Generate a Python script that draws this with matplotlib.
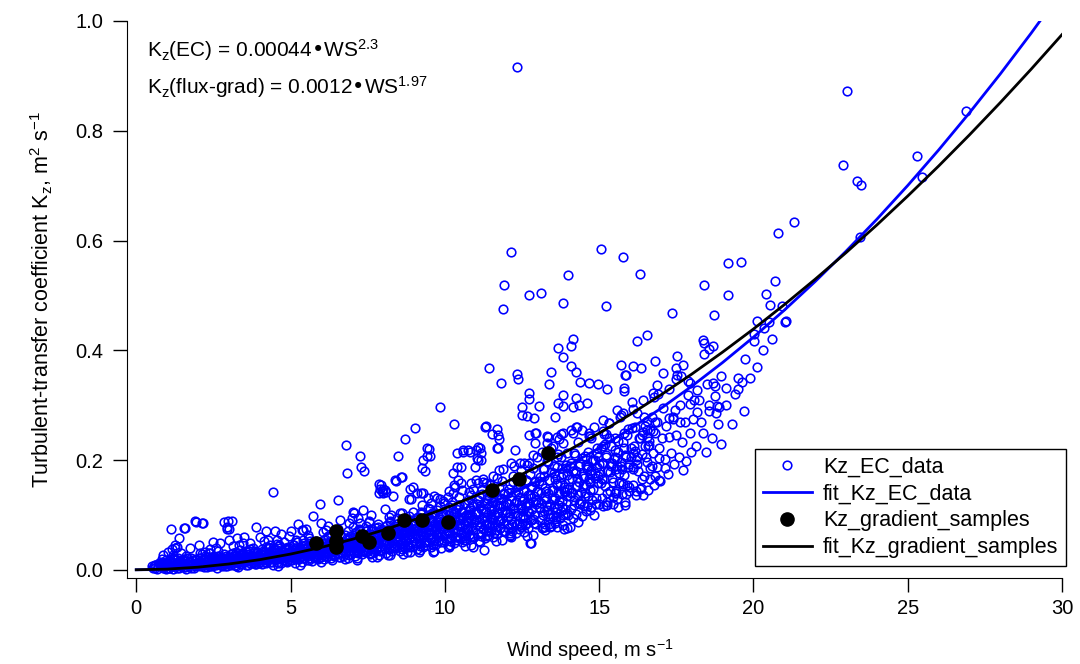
import matplotlib
matplotlib.use('Agg')
import matplotlib.pyplot as plt
import numpy as np

plt.rcParams['font.family'] = ['Liberation Sans', 'DejaVu Sans']
plt.rcParams['mathtext.default'] = 'regular'

# ---------------- data ----------------
# fitted curves, sampled every 1 m/s
fit_ws = list(range(0, 31))
fit_kz_ec = [0, 0.0005, 0.0024, 0.0059, 0.0113, 0.0187, 0.0282, 0.0399, 0.0539, 0.0703,
             0.0891, 0.1104, 0.1343, 0.1608, 0.1899, 0.2218, 0.2565, 0.2940, 0.3344, 0.3776,
             0.4238, 0.4730, 0.5252, 0.5804, 0.6387, 0.7002, 0.7648, 0.8326, 0.9035, 0.9778, 1.0553]
fit_kz_grad = [0, 0.0012, 0.0047, 0.0105, 0.0184, 0.0286, 0.0409, 0.0555, 0.0722, 0.0910,
               0.1120, 0.1351, 0.1604, 0.1878, 0.2173, 0.2489, 0.2827, 0.3186, 0.3565, 0.3966,
               0.4387, 0.4830, 0.5294, 0.5778, 0.6283, 0.6810, 0.7356, 0.7924, 0.8513, 0.9122, 0.9752]

# flux-gradient samples
grad_ws = [5.83, 6.48, 6.48, 6.48, 7.32, 7.55, 8.16, 8.68, 9.26, 10.1, 11.53, 12.41, 13.35]
grad_kz = [0.049, 0.071, 0.053, 0.042, 0.062, 0.051, 0.067, 0.091, 0.091, 0.087, 0.146, 0.166, 0.213]

# eddy-covariance points, dense band (ws, kz)
ec_band_a = [
    (0.55,.004),(0.62,.009),(0.68,.002),(0.74,.012),(0.79,.006),(0.83,.015),(0.87,.003),(0.91,.010),(0.95,.018),(0.98,.007),
    (1.02,.012),(1.05,.004),(1.08,.020),(1.11,.008),(1.14,.015),(1.18,.027),(1.21,.006),(1.24,.011),(1.27,.018),(1.31,.003),
    (1.34,.022),(1.37,.009),(1.41,.014),(1.44,.030),(1.47,.007),(1.51,.012),(1.55,.019),(1.58,.005),(1.62,.025),(1.66,.010),
    (1.70,.016),(1.74,.008),(1.79,.021),(1.84,.013),(1.90,.006),(1.95,.017),
    (2.02,.010),(2.05,.021),(2.08,.006),(2.11,.015),(2.14,.028),(2.17,.012),(2.20,.008),(2.23,.019),(2.26,.024),(2.29,.005),
    (2.32,.014),(2.35,.031),(2.38,.010),(2.41,.017),(2.44,.022),(2.47,.007),(2.50,.013),(2.53,.026),(2.56,.016),(2.59,.009),
    (2.62,.020),(2.65,.034),(2.68,.012),(2.71,.018),(2.74,.024),(2.77,.008),(2.80,.015),(2.83,.028),(2.86,.011),(2.89,.020),
    (2.92,.016),(2.95,.006),(2.98,.023),(2.60,.040),(2.40,.038),
    (3.02,.013),(3.05,.024),(3.08,.009),(3.11,.018),(3.14,.031),(3.17,.015),(3.20,.021),(3.23,.007),(3.26,.027),(3.29,.012),
    (3.32,.019),(3.35,.036),(3.38,.016),(3.41,.010),(3.44,.024),(3.47,.029),(3.50,.014),(3.53,.020),(3.56,.008),(3.59,.033),
    (3.62,.017),(3.65,.023),(3.68,.012),(3.71,.027),(3.74,.019),(3.77,.040),(3.80,.015),(3.83,.025),(3.86,.010),(3.89,.021),
    (3.92,.031),(3.95,.017),(3.98,.023),(3.15,.044),(3.45,.048),(3.70,.037),(3.30,.005),(3.85,.034),(3.55,.026),(3.97,.012),
    (4.02,.015),(4.04,.028),(4.07,.020),(4.09,.010),(4.12,.035),(4.14,.023),(4.17,.017),(4.19,.030),(4.22,.012),(4.24,.026),
    (4.27,.041),(4.29,.019),(4.32,.024),(4.34,.014),(4.37,.032),(4.39,.021),(4.42,.027),(4.44,.009),(4.47,.038),(4.49,.018),
    (4.52,.025),(4.54,.031),(4.57,.015),(4.59,.022),(4.62,.046),(4.64,.028),(4.67,.019),(4.69,.012),(4.72,.034),(4.74,.024),
    (4.77,.029),(4.79,.017),(4.82,.040),(4.84,.021),(4.87,.027),(4.89,.014),(4.92,.033),(4.94,.023),(4.97,.030),(4.99,.018),
    (4.15,.052),(4.55,.055),(4.80,.050),(4.35,.045),(4.60,.007),
]
ec_band_b = [
    (5.02,.024),(5.04,.036),(5.06,.017),(5.08,.029),(5.10,.045),(5.12,.021),(5.14,.032),(5.16,.013),(5.18,.039),(5.20,.026),
    (5.22,.050),(5.24,.030),(5.26,.019),(5.28,.035),(5.30,.024),(5.32,.042),(5.34,.028),(5.36,.015),(5.38,.033),(5.40,.055),
    (5.42,.022),(5.44,.037),(5.46,.027),(5.48,.046),(5.50,.031),(5.52,.018),(5.54,.040),(5.56,.025),(5.58,.034),(5.60,.058),
    (5.62,.029),(5.64,.021),(5.66,.043),(5.68,.036),(5.70,.016),(5.72,.031),(5.74,.048),(5.76,.026),(5.78,.038),(5.80,.022),
    (5.82,.033),(5.84,.052),(5.86,.028),(5.88,.041),(5.90,.019),(5.92,.035),(5.94,.045),(5.96,.030),(5.98,.024),(5.55,.064),
    (6.02,.035),(6.04,.048),(6.06,.027),(6.08,.040),(6.10,.019),(6.12,.056),(6.14,.032),(6.16,.044),(6.18,.024),(6.20,.038),
    (6.22,.062),(6.24,.030),(6.26,.050),(6.28,.036),(6.30,.021),(6.32,.043),(6.34,.029),(6.36,.055),(6.38,.039),(6.40,.025),
    (6.42,.047),(6.44,.034),(6.46,.066),(6.48,.041),(6.50,.028),(6.52,.052),(6.54,.037),(6.56,.023),(6.58,.045),(6.60,.033),
    (6.62,.059),(6.64,.040),(6.66,.030),(6.68,.049),(6.70,.026),(6.72,.043),(6.74,.036),(6.76,.063),(6.78,.046),(6.80,.032),
    (6.82,.054),(6.84,.039),(6.86,.022),(6.88,.048),(6.90,.035),(6.92,.058),(6.94,.042),(6.96,.029),(6.98,.051),(6.15,.072),
    (6.55,.075),(6.85,.070),(6.35,.018),(6.75,.020),(6.45,.060),
    (7.02,.045),(7.04,.060),(7.06,.033),(7.08,.052),(7.10,.026),(7.12,.068),(7.14,.040),(7.16,.055),(7.18,.031),(7.20,.048),
    (7.22,.074),(7.24,.038),(7.26,.061),(7.28,.044),(7.30,.028),(7.32,.054),(7.34,.036),(7.36,.066),(7.38,.049),(7.40,.032),
    (7.42,.058),(7.44,.042),(7.46,.080),(7.48,.051),(7.50,.035),(7.52,.063),(7.54,.046),(7.56,.029),(7.58,.056),(7.60,.041),
    (7.62,.071),(7.64,.050),(7.66,.037),(7.68,.060),(7.70,.033),(7.72,.053),(7.74,.045),(7.76,.077),(7.78,.057),(7.80,.039),
    (7.82,.066),(7.84,.048),(7.86,.027),(7.88,.059),(7.90,.043),(7.92,.070),(7.94,.052),(7.96,.036),(7.98,.062),(7.25,.085),
    (7.55,.088),(7.85,.083),(7.15,.022),(7.65,.024),(7.45,.070),
    (8.02,.054),(8.04,.072),(8.06,.040),(8.08,.062),(8.10,.031),(8.12,.081),(8.14,.048),(8.16,.066),(8.18,.037),(8.20,.057),
    (8.22,.088),(8.24,.045),(8.26,.073),(8.28,.053),(8.30,.034),(8.32,.064),(8.34,.043),(8.36,.079),(8.38,.058),(8.40,.039),
    (8.42,.069),(8.44,.050),(8.46,.095),(8.48,.061),(8.50,.042),(8.52,.075),(8.54,.055),(8.56,.035),(8.58,.067),(8.60,.049),
    (8.62,.085),(8.64,.060),(8.66,.044),(8.68,.071),(8.70,.039),(8.72,.063),(8.74,.053),(8.76,.092),(8.78,.068),(8.80,.046),
    (8.82,.078),(8.84,.057),(8.86,.032),(8.88,.070),(8.90,.051),(8.92,.083),(8.94,.062),(8.96,.043),(8.98,.074),(8.25,.100),
    (8.55,.104),(8.85,.098),(8.15,.027),(8.65,.029),(8.45,.084),
    (9.02,.065),(9.04,.086),(9.06,.048),(9.08,.074),(9.10,.037),(9.12,.097),(9.14,.057),(9.16,.079),(9.18,.044),(9.20,.068),
    (9.22,.105),(9.24,.054),(9.26,.087),(9.28,.063),(9.30,.041),(9.32,.076),(9.34,.051),(9.36,.094),(9.38,.069),(9.40,.046),
    (9.42,.082),(9.44,.060),(9.46,.113),(9.48,.072),(9.50,.050),(9.52,.089),(9.54,.066),(9.56,.042),(9.58,.080),(9.60,.058),
    (9.62,.101),(9.64,.071),(9.66,.053),(9.68,.085),(9.70,.047),(9.72,.075),(9.74,.063),(9.76,.109),(9.78,.081),(9.80,.055),
    (9.82,.093),(9.84,.068),(9.86,.039),(9.88,.083),(9.90,.061),(9.92,.099),(9.94,.074),(9.96,.051),(9.98,.088),(9.25,.118),
    (9.55,.122),(9.85,.116),(9.15,.033),(9.65,.035),(9.45,.100),
]
ec_band_c = [
    (10.02,.076),(10.04,.101),(10.06,.056),(10.08,.087),(10.10,.044),(10.12,.114),(10.14,.067),(10.16,.093),(10.18,.052),(10.20,.080),
    (10.22,.124),(10.24,.063),(10.26,.102),(10.28,.074),(10.30,.048),(10.32,.089),(10.34,.060),(10.36,.111),(10.38,.081),(10.40,.054),
    (10.42,.096),(10.44,.070),(10.46,.133),(10.48,.085),(10.50,.059),(10.52,.105),(10.54,.078),(10.56,.050),(10.58,.094),(10.60,.068),
    (10.62,.119),(10.64,.084),(10.66,.062),(10.68,.100),(10.70,.055),(10.72,.088),(10.74,.074),(10.76,.128),(10.78,.095),(10.80,.065),
    (10.82,.109),(10.84,.080),(10.86,.046),(10.88,.098),(10.90,.072),(10.92,.117),(10.94,.087),(10.96,.060),(10.98,.104),(10.25,.140),
    (10.55,.145),(10.85,.137),(10.15,.041),(10.65,.043),(10.45,.118),
    (11.02,.090),(11.04,.119),(11.06,.066),(11.08,.103),(11.10,.052),(11.12,.135),(11.14,.079),(11.16,.110),(11.18,.061),(11.20,.095),
    (11.22,.147),(11.24,.075),(11.26,.121),(11.28,.088),(11.30,.057),(11.32,.106),(11.34,.071),(11.36,.131),(11.38,.096),(11.40,.064),
    (11.42,.114),(11.44,.083),(11.46,.157),(11.48,.101),(11.50,.070),(11.52,.124),(11.54,.092),(11.56,.059),(11.58,.111),(11.60,.081),
    (11.62,.141),(11.64,.100),(11.66,.073),(11.68,.118),(11.70,.065),(11.72,.104),(11.74,.088),(11.76,.151),(11.78,.112),(11.80,.077),
    (11.82,.129),(11.84,.095),(11.86,.055),(11.88,.116),(11.90,.085),(11.92,.138),(11.94,.103),(11.96,.071),(11.98,.123),(11.25,.165),
    (11.55,.170),(11.85,.162),(11.15,.050),(11.65,.052),(11.45,.140),
    (12.02,.105),(12.04,.139),(12.06,.077),(12.08,.120),(12.10,.062),(12.12,.157),(12.14,.092),(12.16,.128),(12.18,.071),(12.20,.111),
    (12.22,.171),(12.24,.087),(12.26,.141),(12.28,.103),(12.30,.067),(12.32,.124),(12.34,.083),(12.36,.152),(12.38,.112),(12.40,.075),
    (12.42,.133),(12.44,.097),(12.46,.182),(12.48,.118),(12.50,.082),(12.52,.145),(12.54,.107),(12.56,.069),(12.58,.129),(12.60,.094),
    (12.62,.164),(12.64,.116),(12.66,.085),(12.68,.137),(12.70,.076),(12.72,.121),(12.74,.103),(12.76,.175),(12.78,.130),(12.80,.090),
    (12.82,.150),(12.84,.111),(12.86,.064),(12.88,.135),(12.90,.099),(12.92,.160),(12.94,.120),(12.96,.083),(12.98,.143),(12.25,.190),
    (12.55,.195),(12.85,.186),(12.15,.060),(12.65,.062),(12.45,.165),
    (13.02,.123),(13.05,.162),(13.08,.090),(13.11,.140),(13.14,.076),(13.17,.183),(13.20,.107),(13.23,.149),(13.26,.083),(13.29,.129),
    (13.32,.199),(13.35,.101),(13.38,.164),(13.41,.120),(13.44,.079),(13.47,.145),(13.50,.097),(13.53,.177),(13.56,.131),(13.59,.088),
    (13.62,.155),(13.65,.113),(13.68,.211),(13.71,.138),(13.74,.095),(13.77,.169),(13.80,.125),(13.83,.081),(13.86,.150),(13.89,.110),
    (13.92,.191),(13.95,.135),(13.98,.099),(13.15,.215),(13.45,.222),(13.75,.205),(13.25,.072),(13.85,.074),(13.55,.190),(13.35,.140),
    (13.65,.158),(13.95,.172),(13.10,.112),(13.40,.095),(13.70,.118),(13.90,.142),(13.20,.170),(13.60,.105),(13.80,.185),(13.50,.128),
    (14.02,.148),(14.05,.190),(14.08,.110),(14.11,.165),(14.14,.094),(14.17,.213),(14.20,.128),(14.23,.176),(14.26,.101),(14.29,.153),
    (14.32,.232),(14.35,.121),(14.38,.193),(14.41,.142),(14.44,.098),(14.47,.171),(14.50,.117),(14.53,.207),(14.56,.155),(14.59,.107),
    (14.62,.183),(14.65,.134),(14.68,.243),(14.71,.162),(14.74,.114),(14.77,.198),(14.80,.147),(14.83,.100),(14.86,.176),(14.89,.130),
    (14.92,.222),(14.95,.159),(14.98,.119),(14.15,.250),(14.45,.255),(14.75,.240),(14.25,.180),(14.55,.140),(14.85,.200),(14.35,.160),
    (14.65,.190),(14.95,.205),(14.40,.125),(14.10,.140),(14.70,.175),
]
ec_band_d = [
    (15.02,.175),(15.05,.222),(15.08,.131),(15.11,.194),(15.14,.116),(15.17,.247),(15.20,.152),(15.23,.206),(15.26,.123),(15.29,.180),
    (15.32,.268),(15.35,.144),(15.38,.226),(15.41,.168),(15.44,.120),(15.47,.201),(15.50,.140),(15.53,.240),(15.56,.183),(15.59,.129),
    (15.62,.214),(15.65,.159),(15.68,.279),(15.71,.190),(15.74,.138),(15.77,.232),(15.80,.173),(15.83,.124),(15.86,.206),(15.89,.154),
    (15.92,.257),(15.95,.187),(15.98,.143),(15.20,.230),(15.50,.205),(15.80,.250),(15.40,.190),(15.70,.160),(15.10,.165),
    (16.02,.205),(16.06,.258),(16.10,.155),(16.14,.226),(16.18,.143),(16.22,.286),(16.26,.180),(16.30,.240),(16.34,.148),(16.38,.211),
    (16.42,.310),(16.46,.171),(16.50,.262),(16.54,.197),(16.58,.145),(16.62,.234),(16.66,.166),(16.70,.278),(16.74,.213),(16.78,.154),
    (16.82,.249),(16.86,.187),(16.90,.320),(16.94,.222),(16.98,.162),(16.20,.200),(16.50,.225),(16.80,.270),(16.40,.245),(16.70,.190),
    (17.03,.240),(17.08,.295),(17.13,.185),(17.18,.262),(17.23,.175),(17.28,.330),(17.33,.212),(17.38,.278),(17.43,.192),(17.48,.246),
    (17.53,.355),(17.58,.205),(17.63,.300),(17.68,.232),(17.73,.182),(17.78,.270),(17.83,.198),(17.88,.318),(17.93,.250),(17.98,.215),
    (18.05,.275),(18.15,.225),(18.25,.310),(18.35,.250),(18.45,.215),(18.55,.290),(18.65,.240),(18.75,.335),(18.85,.265),(18.95,.230),
    (19.10,.300),(19.30,.265),(19.50,.330),(19.70,.290),(19.90,.350),(20.10,.370),(20.30,.400),(20.60,.420),
]
# core of the band, where the rings merge into solid blue
ec_core_a = [
    (0.52,.006),(0.60,.003),(0.70,.008),(0.78,.011),(0.86,.005),(0.93,.013),(0.97,.002),
    (1.01,.010),(1.045,.004),(1.08,.016),(1.115,.007),(1.15,.013),(1.185,.002),(1.22,.019),(1.255,.009),(1.29,.011),(1.325,.006),
    (1.36,.015),(1.395,.003),(1.43,.018),(1.465,.008),(1.50,.012),(1.535,.005),(1.57,.016),(1.605,.001),(1.64,.021),(1.675,.010),
    (1.71,.007),(1.745,.014),(1.78,.004),(1.815,.017),(1.85,.011),(1.885,.003),(1.92,.020),(1.955,.012),
    (2.01,.015),(2.045,.008),(2.08,.022),(2.115,.011),(2.15,.019),(2.185,.005),(2.22,.025),(2.255,.014),(2.29,.016),(2.325,.010),
    (2.36,.020),(2.395,.006),(2.43,.023),(2.465,.013),(2.50,.017),(2.535,.009),(2.57,.021),(2.605,.004),(2.64,.026),(2.675,.015),
    (2.71,.012),(2.745,.019),(2.78,.007),(2.815,.022),(2.85,.016),(2.885,.006),(2.92,.025),(2.955,.017),
    (3.01,.021),(3.045,.013),(3.08,.029),(3.115,.016),(3.15,.025),(3.185,.009),(3.22,.033),(3.255,.019),(3.29,.022),(3.325,.015),
    (3.36,.027),(3.395,.010),(3.43,.031),(3.465,.018),(3.50,.023),(3.535,.014),(3.57,.028),(3.605,.008),(3.64,.034),(3.675,.021),
    (3.71,.017),(3.745,.026),(3.78,.012),(3.815,.030),(3.85,.022),(3.885,.011),(3.92,.033),(3.955,.024),
    (4.01,.028),(4.045,.019),(4.08,.037),(4.115,.022),(4.15,.032),(4.185,.014),(4.22,.041),(4.255,.025),(4.29,.029),(4.325,.020),
    (4.36,.035),(4.395,.015),(4.43,.039),(4.465,.024),(4.50,.030),(4.535,.019),(4.57,.036),(4.605,.013),(4.64,.043),(4.675,.028),
    (4.71,.023),(4.745,.034),(4.78,.017),(4.815,.038),(4.85,.029),(4.885,.016),(4.92,.042),(4.955,.031),
    (5.01,.035),(5.045,.025),(5.08,.045),(5.115,.028),(5.15,.040),(5.185,.019),(5.22,.050),(5.255,.032),(5.29,.036),(5.325,.026),
    (5.36,.043),(5.395,.021),(5.43,.048),(5.465,.031),(5.50,.037),(5.535,.025),(5.57,.044),(5.605,.018),(5.64,.052),(5.675,.035),
    (5.71,.029),(5.745,.042),(5.78,.023),(5.815,.047),(5.85,.036),(5.885,.021),(5.92,.051),(5.955,.038),
    (6.01,.043),(6.045,.031),(6.08,.055),(6.115,.035),(6.15,.049),(6.185,.025),(6.22,.060),(6.255,.040),(6.29,.044),(6.325,.033),
    (6.36,.052),(6.395,.027),(6.43,.058),(6.465,.039),(6.50,.045),(6.535,.031),(6.57,.053),(6.605,.024),(6.64,.062),(6.675,.043),
    (6.71,.036),(6.745,.051),(6.78,.029),(6.815,.057),(6.85,.044),(6.885,.027),(6.92,.061),(6.955,.046),
    (7.01,.053),(7.045,.039),(7.08,.067),(7.115,.043),(7.15,.060),(7.185,.032),(7.22,.073),(7.255,.049),(7.29,.054),(7.325,.041),
    (7.36,.064),(7.395,.034),(7.43,.070),(7.465,.048),(7.50,.055),(7.535,.039),(7.57,.065),(7.605,.031),(7.64,.075),(7.675,.053),
    (7.71,.045),(7.745,.062),(7.78,.036),(7.815,.069),(7.85,.054),(7.885,.034),(7.92,.074),(7.955,.056),
]
ec_core_b = [
    (8.01,.063),(8.045,.047),(8.08,.080),(8.115,.052),(8.15,.072),(8.185,.039),(8.22,.087),(8.255,.058),(8.29,.065),(8.325,.049),
    (8.36,.076),(8.395,.041),(8.43,.084),(8.465,.057),(8.50,.066),(8.535,.047),(8.57,.078),(8.605,.038),(8.64,.089),(8.675,.063),
    (8.71,.054),(8.745,.074),(8.78,.044),(8.815,.082),(8.85,.065),(8.885,.041),(8.92,.088),(8.955,.067),
    (9.01,.075),(9.045,.057),(9.08,.094),(9.115,.062),(9.15,.085),(9.185,.048),(9.22,.102),(9.255,.069),(9.29,.077),(9.325,.059),
    (9.36,.089),(9.395,.050),(9.43,.098),(9.465,.068),(9.50,.078),(9.535,.057),(9.57,.091),(9.605,.046),(9.64,.104),(9.675,.075),
    (9.71,.065),(9.745,.087),(9.78,.053),(9.815,.096),(9.85,.077),(9.885,.050),(9.92,.103),(9.955,.079),
    (10.01,.088),(10.045,.067),(10.08,.109),(10.115,.073),(10.15,.099),(10.185,.057),(10.22,.118),(10.255,.081),(10.29,.090),(10.325,.069),
    (10.36,.104),(10.395,.059),(10.43,.114),(10.465,.080),(10.50,.091),(10.535,.067),(10.57,.106),(10.605,.055),(10.64,.121),(10.675,.088),
    (10.71,.076),(10.745,.101),(10.78,.063),(10.815,.112),(10.85,.090),(10.885,.059),(10.92,.120),(10.955,.093),
    (11.01,.104),(11.045,.081),(11.08,.127),(11.115,.087),(11.15,.116),(11.185,.069),(11.22,.138),(11.255,.096),(11.29,.106),(11.325,.083),
    (11.36,.122),(11.395,.071),(11.43,.134),(11.465,.095),(11.50,.107),(11.535,.081),(11.57,.124),(11.605,.067),(11.64,.141),(11.675,.104),
    (11.71,.091),(11.745,.118),(11.78,.076),(11.815,.131),(11.85,.106),(11.885,.071),(11.92,.139),(11.955,.109),
    (12.01,.122),(12.045,.097),(12.08,.147),(12.115,.103),(12.15,.135),(12.185,.083),(12.22,.160),(12.255,.113),(12.29,.124),(12.325,.099),
    (12.36,.142),(12.395,.085),(12.43,.155),(12.465,.112),(12.50,.125),(12.535,.097),(12.57,.144),(12.605,.081),(12.64,.163),(12.675,.122),
    (12.71,.107),(12.745,.137),(12.78,.091),(12.815,.152),(12.85,.124),(12.885,.085),(12.92,.161),(12.955,.127),
    (13.01,.142),(13.045,.115),(13.08,.169),(13.115,.121),(13.15,.156),(13.185,.099),(13.22,.183),(13.255,.132),(13.29,.144),(13.325,.116),
    (13.36,.164),(13.395,.101),(13.43,.178),(13.465,.131),(13.50,.145),(13.535,.115),(13.57,.166),(13.605,.097),(13.64,.187),(13.675,.142),
    (13.71,.125),(13.745,.158),(13.78,.108),(13.815,.174),(13.85,.144),(13.885,.101),(13.92,.185),(13.955,.147),
    (14.01,.165),(14.045,.135),(14.08,.195),(14.115,.142),(14.15,.180),(14.185,.118),(14.22,.210),(14.255,.153),(14.29,.167),(14.325,.136),
    (14.36,.189),(14.395,.120),(14.43,.204),(14.465,.152),(14.50,.168),(14.535,.135),(14.57,.191),(14.605,.116),(14.64,.214),(14.675,.165),
    (14.71,.146),(14.745,.182),(14.78,.127),(14.815,.200),(14.85,.167),(14.885,.120),(14.92,.212),(14.955,.170),
    (15.01,.192),(15.06,.158),(15.11,.225),(15.16,.166),(15.21,.209),(15.26,.140),(15.31,.241),(15.36,.178),(15.41,.194),(15.46,.160),
    (15.51,.219),(15.56,.143),(15.61,.235),(15.66,.177),(15.71,.196),(15.76,.157),(15.81,.222),(15.86,.138),(15.91,.245),(15.96,.192),
    (16.03,.222),(16.10,.183),(16.17,.260),(16.24,.192),(16.31,.241),(16.38,.165),(16.45,.278),(16.52,.206),(16.59,.225),(16.66,.186),
    (16.73,.252),(16.80,.170),(16.87,.270),(16.94,.204),
]

# eddy-covariance points, scattered away from the band (ws, kz)
ec_scatter_low = [
    (0.62,.009),(0.58,.007),(0.84,.013),(0.84,.020),(0.87,.027),(1.04,.033),(1.13,.075),(1.17,.038),(1.20,.022),(1.26,.046),
    (1.26,.040),(1.33,.042),(1.39,.058),(1.52,.018),(1.55,.076),(1.59,.077),(1.75,.040),(1.91,.089),(1.94,.087),(2.04,.046),
    (2.07,.031),(2.14,.085),(2.17,.085),(2.24,.033),(2.40,.031),(2.85,.087),(2.95,.078),(2.95,.075),(3.01,.075),(3.11,.089),
    (2.98,.089),(3.27,.058),(3.34,.046),(3.69,.049),(3.89,.078),(4.28,.055),(4.44,.142),(4.50,.071),(4.57,.047),(4.96,.062),
    (5.18,.055),(5.25,.084),(5.38,.073),(5.41,.073),(5.73,.098),(5.96,.120),(6.06,.069),(6.54,.127),(6.80,.228),(6.84,.177),
    (7.03,.078),(7.03,.106),(7.06,.104),(7.26,.208),(7.29,.188),(7.35,.109),(7.39,.180),(7.55,.087),(7.84,.078),(7.87,.157),
    (7.87,.140),(7.90,.148),(7.94,.155),(7.97,.144),(7.16,.018),(5.99,.015),(5.31,.009),(7.81,.024),
    (2.5,.050),(3.5,.060),(4.0,.060),(4.7,.065),(5.5,.075),(6.2,.080),(6.6,.090),(7.0,.095),(3.0,.055),(2.7,.048),
    (4.2,.070),(5.0,.070),(6.0,.085),(6.9,.085),(7.6,.100),(7.2,.095),
]
ec_scatter_mid = [
    (8.00,.148),(8.00,.140),(8.07,.146),(8.07,.111),(8.10,.142),(8.20,.097),(8.23,.027),(8.33,.135),(8.39,.164),(8.42,.162),
    (8.49,.208),(8.58,.169),(8.62,.169),(8.62,.104),(8.71,.239),(8.78,.033),(8.84,.129),(8.88,.148),(8.91,.129),(8.97,.106),
    (8.97,.150),(9.04,.259),(9.10,.140),(9.20,.036),(9.23,.140),(9.26,.186),(9.30,.200),(9.30,.140),(9.36,.180),(9.43,.208),
    (9.43,.222),(9.46,.131),(9.49,.220),(9.52,.208),(9.52,.111),(9.59,.104),(9.62,.033),(9.65,.135),(9.75,.131),(9.85,.297),
    (9.85,.129),(9.94,.126),(9.98,.122),(10.11,.133),(10.14,.144),(10.17,.046),(10.20,.104),(10.27,.177),(10.30,.266),(10.30,.155),
    (10.33,.151),(10.33,.097),(10.40,.188),(10.40,.213),(10.43,.164),(10.46,.118),(10.50,.058),(10.53,.188),(10.53,.158),(10.59,.219),
    (10.59,.215),(10.72,.073),(10.75,.219),(10.79,.142),(10.82,.215),(10.82,.060),(10.85,.158),(10.92,.148),(10.92,.042),(10.98,.188),
    (11.01,.219),(11.01,.164),(11.05,.204),(11.08,.224),(11.08,.200),(11.08,.158),(11.14,.222),(11.18,.213),(11.18,.200),(11.24,.160),
    (11.27,.036),(11.31,.260),(11.34,.262),(11.34,.158),(11.37,.062),(11.37,.082),(11.43,.368),(11.47,.155),(11.47,.078),(11.53,.248),
    (11.56,.140),(11.56,.091),(11.69,.257),(11.69,.222),(11.69,.168),(11.73,.246),(11.73,.222),(11.76,.239),(11.76,.182),(11.79,.089),
    (11.82,.341),(11.89,.475),(11.89,.184),(11.92,.519),(12.05,.084),(12.12,.067),(12.12,.064),(12.15,.579),(12.15,.195),(12.28,.219),
    (12.34,.916),(12.34,.357),(12.37,.348),(12.44,.195),(12.47,.078),(12.50,.297),(12.50,.282),(12.54,.100),(12.67,.280),(12.67,.191),
    (12.73,.501),(12.73,.322),(12.73,.311),(12.73,.246),(12.73,.195),(12.76,.049),(12.80,.049),(12.86,.209),(12.86,.093),(12.89,.277),
    (12.92,.250),(12.92,.231),(12.96,.250),(12.99,.206),(13.05,.299),(13.12,.505),(13.18,.078),(13.25,.078),(13.31,.231),(13.31,.244),
    (13.31,.109),(13.35,.242),(13.35,.197),(13.38,.339),(13.38,.084),(13.41,.078),(13.44,.361),(13.51,.226),(13.57,.279),(13.57,.086),
    (13.64,.242),(13.64,.206),(13.64,.078),(13.67,.404),(13.67,.304),(13.70,.239),(13.77,.248),(13.80,.115),(13.83,.486),(13.83,.388),
    (13.83,.319),(13.83,.299),(13.83,.250),(13.83,.231),(13.83,.100),(13.96,.213),(13.96,.104),(13.96,.077),(13.99,.537),
]
ec_scatter_high = [
    (14.06,.078),(14.09,.408),(14.09,.372),(14.09,.255),(14.16,.421),(14.16,.297),(14.25,.361),(14.25,.313),(14.25,.260),(14.29,.260),
    (14.32,.087),(14.35,.301),(14.38,.342),(14.61,.304),(14.61,.188),(14.67,.341),(14.67,.250),(14.71,.158),(14.71,.109),(14.71,.244),
    (14.84,.260),(14.93,.188),(14.97,.339),(15.06,.585),(15.10,.195),(15.13,.273),(15.13,.253),(15.23,.481),(15.23,.248),(15.23,.118),
    (15.26,.330),(15.26,.180),(15.26,.118),(15.32,.268),(15.45,.133),(15.55,.140),(15.58,.291),(15.58,.204),(15.58,.189),(15.61,.115),
    (15.71,.373),(15.71,.282),(15.74,.184),(15.78,.570),(15.78,.286),(15.81,.332),(15.81,.326),(15.84,.355),(15.84,.209),(15.84,.118),
    (15.87,.355),(15.97,.151),(16.07,.306),(16.10,.372),(16.10,.293),(16.10,.213),(16.10,.188),(16.16,.217),(16.20,.137),(16.23,.417),
    (16.23,.206),(16.33,.539),(16.36,.368),(16.36,.149),(16.42,.251),(16.42,.137),(16.55,.428),(16.55,.271),(16.55,.255),(16.55,.242),
    (16.62,.228),(16.65,.255),(16.75,.322),(16.78,.315),(16.81,.381),(16.88,.337),(16.94,.164),(17.07,.359),(17.14,.202),(17.27,.277),
    (17.27,.242),(17.36,.468),(17.40,.275),(17.46,.291),(17.49,.368),(17.49,.348),(17.53,.390),(17.62,.270),(17.65,.353),(17.72,.373),
    (17.88,.344),(17.95,.341),(17.95,.302),(18.08,.310),(18.17,.328),(18.17,.288),(18.30,.270),(18.37,.419),(18.40,.519),(18.40,.413),
    (18.40,.393),(18.50,.339),(18.56,.403),(18.56,.301),(18.69,.408),(18.69,.341),(18.72,.464),(18.76,.317),(18.79,.286),(18.82,.299),
    (18.89,.297),(18.95,.353),(19.11,.332),(19.18,.559),(19.18,.501),(19.40,.321),(19.50,.350),(19.60,.561),(19.63,.342),(19.73,.384),
    (20.02,.430),(20.02,.417),(20.12,.454),(20.34,.441),(20.41,.503),(20.51,.452),(20.54,.483),(20.70,.526),(20.80,.614),(20.93,.481),
    (21.02,.452),(21.06,.454),(21.32,.634),(22.90,.738),(23.03,.872),(23.36,.709),(23.45,.607),(23.49,.701),(25.30,.754),(25.46,.716),
    (26.89,.836),
]

ec_pts = np.array(ec_band_a + ec_band_b + ec_band_c + ec_band_d + ec_core_a + ec_core_b
                  + ec_scatter_low + ec_scatter_mid + ec_scatter_high)
ec_ws, ec_kz = ec_pts[:, 0], ec_pts[:, 1]

BLUE = '#0000ff'

fig = plt.figure(figsize=(10.8, 6.64), dpi=100)
ax = fig.add_axes([127/1080, 86/664, 935/1080, 557/664])

ax.plot(ec_ws, ec_kz, linestyle='none', marker='o', ms=6.2, mfc='none', mec=BLUE, mew=1.15,
        label='Kz_EC_data')
ax.plot(fit_ws, fit_kz_ec, color=BLUE, lw=2, label='fit_Kz_EC_data')
ax.plot(grad_ws, grad_kz, linestyle='none', marker='o', ms=9.5, color='black',
        label='Kz_gradient_samples')
ax.plot(fit_ws, fit_kz_grad, color='black', lw=2, label='fit_Kz_gradient_samples')

ax.set_xlim(-0.3, 30)
ax.set_ylim(-0.015, 1.0)
ax.set_xticks([0, 5, 10, 15, 20, 25, 30])
ax.set_yticks([0.0, 0.2, 0.4, 0.6, 0.8, 1.0])
ax.yaxis.set_major_formatter(matplotlib.ticker.FormatStrFormatter('%.1f'))
ax.tick_params(direction='out', length=10, width=1, labelsize=14.5)
ax.tick_params(axis='y', pad=7)
ax.tick_params(axis='x', pad=5)
for s in ['top', 'right']:
    ax.spines[s].set_visible(False)

ax.set_xlabel('Wind speed, m s$^{-1}$', fontsize=14.5, va='center')
ax.xaxis.set_label_coords(0.495, -0.129)
ax.set_ylabel('Turbulent-transfer coefficient K$_{z}$, m$^{2}$ s$^{-1}$', fontsize=15.5, va='center')
ax.yaxis.set_label_coords(-0.091, 0.5)

fig.text(147/1080, 1 - 57/664, 'K$_{z}$(EC) = 0.00044\u2022WS$^{2.3}$', fontsize=15, va='baseline')
fig.text(147/1080, 1 - 94/664, 'K$_{z}$(flux-grad) = 0.0012\u2022WS$^{1.97}$', fontsize=15, va='baseline')

leg = ax.legend(loc='lower right', bbox_to_anchor=(1.004, 0.0215), borderaxespad=0,
                fontsize=15.5, frameon=True, fancybox=False, framealpha=1, edgecolor='black',
                handlelength=2.3, labelspacing=0.28, borderpad=0.35, handletextpad=0.5)
leg.get_frame().set_linewidth(1)

fig.savefig('out.png', dpi=100)
